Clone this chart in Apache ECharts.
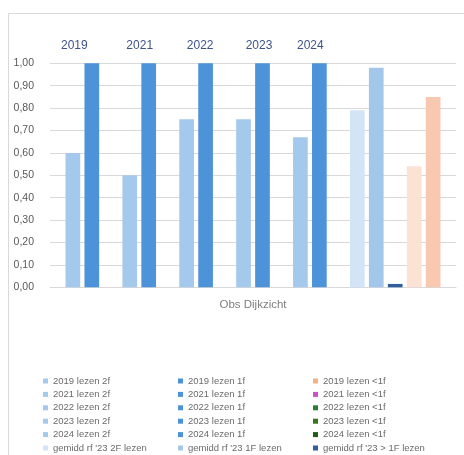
<!DOCTYPE html>
<html>
<head>
<meta charset="utf-8">
<script src="https://cdn.jsdelivr.net/npm/echarts@6/dist/echarts.min.js"></script>
<style>html,body{margin:0;padding:0;background:#fff;}#c{width:464px;height:455px;}</style>
</head>
<body>
<div id="c"></div>
<script>
var categories = ['Obs Dijkzicht'];
var seriesNames = [
  '2019 lezen 2f', '2019 lezen 1f', '2019 lezen <1f',
  '2021 lezen 2f', '2021 lezen 1f', '2021 lezen <1f',
  '2022 lezen 2f', '2022 lezen 1f', '2022 lezen <1f',
  '2023 lezen 2f', '2023 lezen 1f', '2023 lezen <1f',
  '2024 lezen 2f', '2024 lezen 1f', '2024 lezen <1f',
  "gemidd rf '23 2F lezen", "gemidd rf '23 1F lezen", "gemidd rf '23 > 1F lezen",
  'extra a', 'extra b'
];
var seriesValues = [
  0.60, 1.00, 0,
  0.50, 1.00, 0,
  0.75, 1.00, 0,
  0.75, 1.00, 0,
  0.67, 1.00, 0,
  0.79, 0.98, 0.015,
  0.54, 0.85
];
var yearLabels = ['2019', '2021', '2022', '2023', '2024'];
var yTicks = [0, 0.1, 0.2, 0.3, 0.4, 0.5, 0.6, 0.7, 0.8, 0.9, 1.0];

var colors = [
  '#A5C9EC', '#4D93DA', '#F4B183',
  '#A5C9EC', '#4D93DA', '#CC4FCC',
  '#A5C9EC', '#4D93DA', '#2E7D32',
  '#A5C9EC', '#4D93DA', '#3A7420',
  '#A5C9EC', '#4D93DA', '#1E5A1E',
  '#D2E4F5', '#A3C7EA', '#2F5D9E',
  '#FBE2D4', '#F8C8B0'
];
var labelOffsets = [[-17.5, -7], [-9, -7], [-5.4, -7], [-3.5, -7], [-9, -7]];

var font = "'Liberation Sans', Arial, sans-serif";
var series = seriesNames.map(function (n, i) {
  var s = {
    name: n,
    type: 'bar',
    data: [seriesValues[i]],
    barWidth: 14.7,
    barGap: '29%',
    itemStyle: { color: colors[i] },
    emphasis: { disabled: true },
    animation: false
  };
  if (i % 3 === 1 && i < 15) {
    var k = (i - 1) / 3;
    s.label = {
      show: true, position: 'top', offset: labelOffsets[k],
      formatter: yearLabels[k], color: '#3E5486', fontSize: 12, fontFamily: font
    };
  }
  return s;
});

function legendCol(idx, left) {
  return {
    orient: 'vertical', left: left, top: 376, padding: 0,
    itemWidth: 5, itemHeight: 5, itemGap: 3.4, icon: 'rect',
    selectedMode: false,
    textStyle: { fontSize: 9.5, color: '#6B6B6B', fontFamily: font, lineHeight: 10 },
    data: idx.map(function (i) { return seriesNames[i]; })
  };
}

var chart = echarts.init(document.getElementById('c'));
chart.setOption({
  backgroundColor: '#fff',
  animation: false,
  graphic: [{
    type: 'rect', shape: { x: 8.5, y: 13.5, width: 470, height: 460 },
    style: { fill: 'none', stroke: '#D9D9D9', lineWidth: 1 }, silent: true
  }],
  grid: { left: 50, right: 8, top: 63.3, bottom: 167.7, containLabel: false },
  legend: [
    legendCol([0, 3, 6, 9, 12, 15], 43),
    legendCol([1, 4, 7, 10, 13, 16], 178),
    legendCol([2, 5, 8, 11, 14, 17], 313)
  ],
  xAxis: {
    type: 'category', data: categories,
    axisLine: { lineStyle: { color: '#D9D9D9' } },
    axisTick: { show: false },
    axisLabel: { color: '#7F7F7F', fontSize: 11.5, fontFamily: font, margin: 12 }
  },
  yAxis: {
    type: 'value', min: 0, max: 1, interval: 0.1,
    axisLine: { show: false }, axisTick: { show: false },
    splitLine: { lineStyle: { color: '#D9D9D9' } },
    axisLabel: {
      color: '#595959', fontSize: 10.5, fontFamily: font, margin: 16,
      formatter: function (v) { return v.toFixed(2).replace('.', ','); }
    }
  },
  series: series
});
</script>
</body>
</html>
